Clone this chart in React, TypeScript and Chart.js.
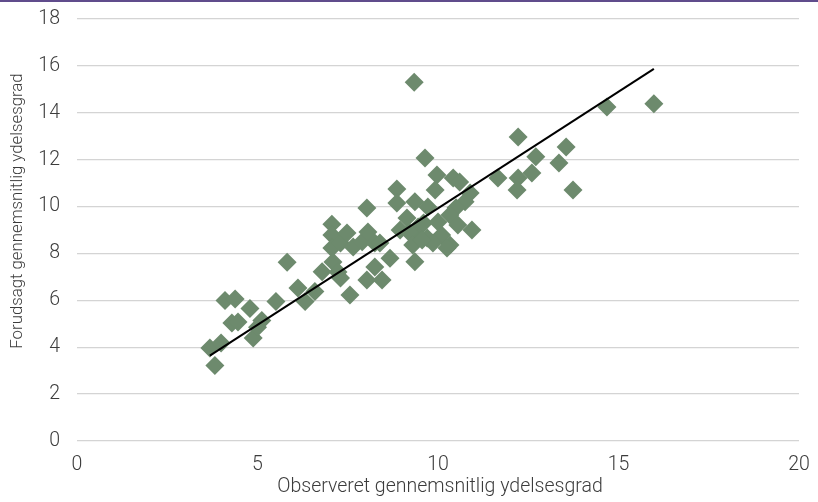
import { useEffect, useRef } from "react";
import { Chart, registerables } from "chart.js";

Chart.register(...registerables);

const observed = [
  3.68, 3.82, 3.99, 4.1, 4.38, 4.29, 4.46, 4.79, 4.88, 5.12, 5.0, 5.51, 5.82, 6.12, 6.32, 6.59, 6.79,
  7.06, 7.06, 7.06, 7.09, 7.23, 7.3, 7.3, 7.48, 7.65, 7.56, 7.9, 8.03, 8.06, 8.25, 8.03, 8.45, 8.25,
  8.67, 8.39, 8.95, 8.86, 8.86, 9.34, 9.36, 9.14, 9.45, 9.4, 9.6, 9.2, 9.64, 9.97, 10.42, 10.6, 9.92,
  10.89, 10.75, 10.5, 9.72, 10.33, 10.0, 10.55, 10.94, 9.7, 10.1, 9.3, 9.86, 10.33, 9.36, 9.56, 10.25,
  11.66, 12.22, 12.22, 12.19, 12.6, 12.71, 13.35, 13.55, 13.74, 14.68, 15.98,
];

const predicted = [
  3.97, 3.22, 4.18, 5.99, 6.06, 5.03, 5.08, 5.65, 4.39, 5.14, 4.85, 5.95, 7.62, 6.53, 5.95, 6.38, 7.22,
  9.25, 8.79, 8.23, 7.64, 7.21, 8.45, 6.95, 8.87, 8.28, 6.23, 8.5, 9.94, 8.92, 8.45, 6.87, 6.87, 7.42,
  7.8, 8.45, 9.0, 10.75, 10.15, 15.3, 10.2, 9.51, 9.13, 8.7, 9.3, 8.9, 12.07, 11.35, 11.22, 11.05, 10.71,
  10.58, 10.2, 9.95, 9.98, 9.64, 9.34, 9.21, 9.0, 8.66, 8.79, 8.36, 8.45, 8.36, 7.65, 8.57, 8.23,
  11.22, 12.97, 11.22, 10.71, 11.43, 12.12, 11.86, 12.54, 10.71, 14.25, 14.38,
];

const trendX = [3.68, 15.98];
const trendY = [3.64, 15.87];

const xTickValues = [0, 5, 10, 15, 20];
const yTickValues = [0, 2, 4, 6, 8, 10, 12, 14, 16, 18];

const xTitle = "Observeret gennemsnitlig ydelsesgrad";
const yTitle = "Forudsagt gennemsnitlig ydelsesgrad";

const TEXT = "#3c3c3c";
const FONT = "Roboto, 'Liberation Sans', sans-serif";

const titlePlugin = {
  id: "axisTitles",
  afterDraw(chart: any) {
    const { ctx, chartArea } = chart;
    ctx.save();
    ctx.fillStyle = TEXT;
    ctx.textAlign = "center";
    ctx.textBaseline = "middle";
    ctx.font = `300 19.5px ${FONT}`;
    ctx.fillText(xTitle, (chartArea.left + chartArea.right) / 2 + 2, 487);
    ctx.translate(18, 211);
    ctx.rotate(-Math.PI / 2);
    ctx.font = `300 16.8px ${FONT}`;
    ctx.fillText(yTitle, 0, 0);
    ctx.restore();
  },
};

export default function App() {
  const ref = useRef<HTMLCanvasElement>(null);

  useEffect(() => {
    if (!ref.current) return;
    const points = observed.map((x, i) => ({ x, y: predicted[i] }));
    const trend = trendX.map((x, i) => ({ x, y: trendY[i] }));
    const chart = new Chart(ref.current, {
      type: "scatter",
      data: {
        datasets: [
          {
            type: "line",
            data: trend,
            borderColor: "#000000",
            borderWidth: 2,
            pointRadius: 0,
            showLine: true,
            fill: false,
            order: 0,
          } as any,
          {
            data: points,
            pointStyle: "rectRot",
            pointRadius: 9.5,
            pointHoverRadius: 9.5,
            backgroundColor: "#6d8a6d",
            borderColor: "#6d8a6d",
            borderWidth: 0,
            order: 1,
          },
        ],
      },
      options: {
        animation: false,
        responsive: false,
        layout: { padding: { top: 19, right: 19, left: 0, bottom: 0 } },
        plugins: {
          legend: { display: false },
          tooltip: { enabled: false },
        },
        scales: {
          x: {
            type: "linear",
            min: 0,
            max: 20,
            afterBuildTicks: (scale: any) => {
              scale.ticks = xTickValues.map((v) => ({ value: v }));
            },
            afterFit: (scale: any) => {
              scale.height = 61;
            },
            grid: {
              display: true,
              drawOnChartArea: false,
              drawTicks: true,
              tickLength: 12,
              tickColor: "rgba(0,0,0,0)",
            },
            border: { display: false },
            ticks: {
              padding: 0,
              color: TEXT,
              font: { family: FONT, size: 19.5, weight: "300" as any },
            },
          },
          y: {
            type: "linear",
            min: 0,
            max: 18,
            afterBuildTicks: (scale: any) => {
              scale.ticks = yTickValues.map((v) => ({ value: v }));
            },
            afterFit: (scale: any) => {
              scale.width = 77;
            },
            grid: {
              color: "#d4d4d4",
              lineWidth: 1.3,
              drawTicks: true,
              tickLength: 17,
              tickColor: "rgba(0,0,0,0)",
            },
            border: { display: false },
            ticks: {
              padding: 0,
              color: TEXT,
              font: { family: FONT, size: 19.5, weight: "300" as any },
            },
          },
        },
      },
      plugins: [titlePlugin],
    });
    return () => chart.destroy();
  }, []);

  return (
    <div style={{ position: "absolute", left: 0, top: 0, width: 818, height: 502, background: "#fff" }}>
      <div style={{ position: "absolute", left: 0, top: 0, width: 818, height: 2, background: "#604c8c" }} />
      <canvas ref={ref} width={818} height={502} style={{ display: "block" }} />
    </div>
  );
}
